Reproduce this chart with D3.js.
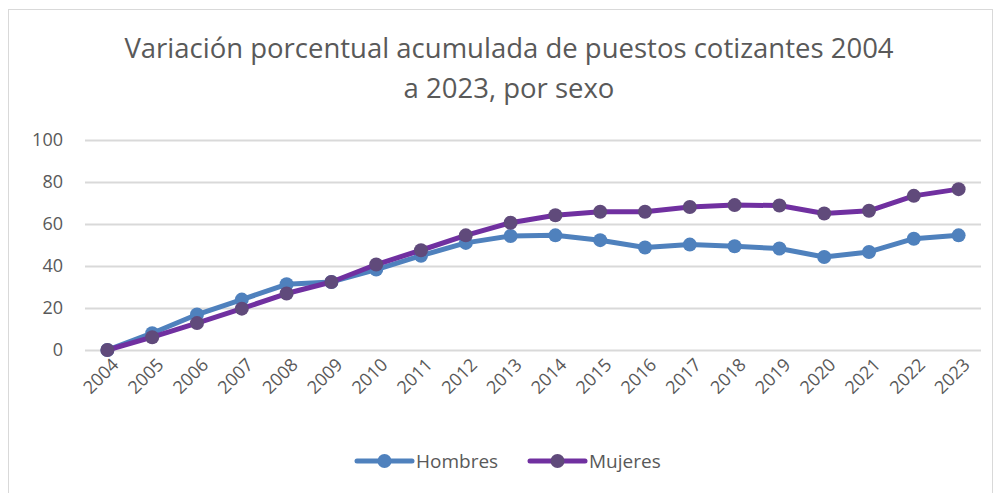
<!doctype html>
<html>
<head>
<meta charset="utf-8">
<title>Variación porcentual acumulada</title>
<script src="https://cdn.jsdelivr.net/npm/d3@7"></script>
<style>
  body { margin: 0; background: #fff; }
  svg { display: block; font-family: "Open Sans", sans-serif; }
</style>
</head>
<body>
<div id="chart"></div>
<script>
var years = ['2004','2005','2006','2007','2008','2009','2010','2011','2012','2013',
             '2014','2015','2016','2017','2018','2019','2020','2021','2022','2023'];
var hombres = [0, 8.0, 16.9, 24.0, 31.3, 32.4, 38.3, 44.9, 51.0, 54.3,
               54.6, 52.3, 48.8, 50.2, 49.4, 48.3, 44.3, 46.7, 53.0, 54.6];
var mujeres = [0, 6.1, 12.8, 19.7, 26.9, 32.4, 40.7, 47.5, 54.6, 60.6,
               64.2, 65.8, 65.8, 68.1, 69.0, 68.8, 65.0, 66.3, 73.4, 76.6];
var yTicks = [0, 20, 40, 60, 80, 100];

var width = 997, height = 493;
var plotLeft = 85, plotRight = 981, plotTop = 140, plotBottom = 350;
var textColor = '#595959';

var svg = d3.select('#chart').append('svg')
  .attr('width', width)
  .attr('height', height);

// chart border
svg.append('rect')
  .attr('x', 8.5).attr('y', 9.5)
  .attr('width', 984).attr('height', 490)
  .attr('fill', 'none')
  .attr('stroke', '#d9d9d9');

var x = d3.scalePoint().domain(years).range([plotLeft, plotRight]).padding(0.5);
var y = d3.scaleLinear().domain([0, 100]).range([plotBottom, plotTop]);

// title
var title = svg.append('text')
  .attr('text-anchor', 'middle')
  .attr('fill', textColor)
  .attr('font-size', '27.5px');
title.append('tspan').attr('x', 509).attr('y', 58)
  .text('Variación porcentual acumulada de puestos cotizantes 2004');
title.append('tspan').attr('x', 509).attr('y', 98)
  .text('a 2023, por sexo');

// gridlines + y labels
var yAxis = d3.axisLeft(y).tickValues(yTicks).tickSize(-(plotRight - plotLeft)).tickPadding(22);
var gy = svg.append('g').attr('transform', 'translate(' + plotLeft + ',0)').call(yAxis);
gy.select('.domain').remove();
gy.selectAll('line').attr('stroke', '#d9d9d9').attr('stroke-width', 2);
gy.selectAll('text').attr('fill', textColor).attr('font-size', '18px')
  .attr('font-family', '"Open Sans", sans-serif');

// x labels
var xAxis = d3.axisBottom(x).tickSize(0).tickPadding(0);
var gx = svg.append('g').attr('transform', 'translate(0,' + plotBottom + ')').call(xAxis);
gx.select('.domain').remove();
gx.selectAll('text')
  .attr('fill', textColor)
  .attr('font-size', '18px')
  .attr('font-family', '"Open Sans", sans-serif')
  .attr('text-anchor', 'end')
  .attr('dy', null)
  .attr('y', 0)
  .attr('transform', 'translate(12,16) rotate(-45)');

var series = [
  { name: 'Hombres', values: hombres, line: '#4f81bd', dot: '#4f81bd' },
  { name: 'Mujeres', values: mujeres, line: '#7030a0', dot: '#604a7b' }
];

var line = d3.line()
  .x(function(d, i) { return x(years[i]); })
  .y(function(d) { return y(d); });

series.forEach(function(s) {
  svg.append('path')
    .datum(s.values)
    .attr('d', line)
    .attr('fill', 'none')
    .attr('stroke', s.line)
    .attr('stroke-width', 5)
    .attr('stroke-linejoin', 'round');
  svg.selectAll(null)
    .data(s.values)
    .enter()
    .append('circle')
    .attr('cx', function(d, i) { return x(years[i]); })
    .attr('cy', function(d) { return y(d); })
    .attr('r', 7)
    .attr('fill', s.dot);
});

// legend
var legendX = [357, 530];
series.forEach(function(s, i) {
  var g = svg.append('g').attr('transform', 'translate(' + legendX[i] + ',461)');
  g.append('line').attr('x1', 0).attr('x2', 55)
    .attr('stroke', s.line).attr('stroke-width', 5).attr('stroke-linecap', 'round');
  g.append('circle').attr('cx', 27.5).attr('r', 7).attr('fill', s.dot);
  g.append('text').attr('x', 59).attr('y', 7)
    .attr('fill', textColor).attr('font-size', '19px')
    .text(s.name);
});
</script>
</body>
</html>
